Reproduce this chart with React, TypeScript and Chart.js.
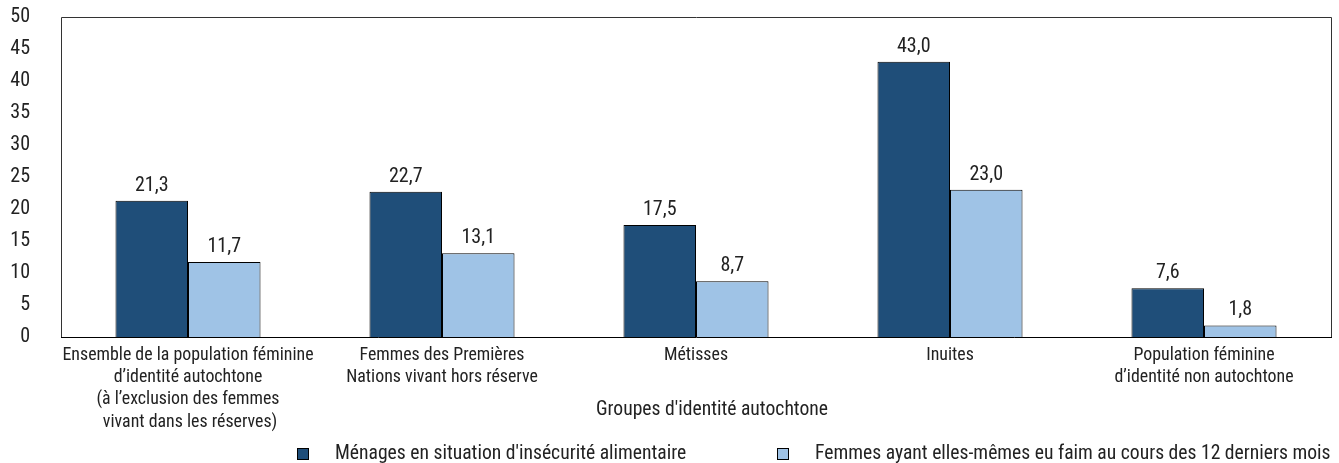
import { useEffect, useRef } from 'react';
import { Chart, registerables } from 'chart.js';

Chart.register(...registerables);

// Category labels (one entry per line)
const categories: string[][] = [
  ['Ensemble de la population féminine', 'd’identité autochtone', '(à l’exclusion des femmes', ' vivant dans les réserves)'],
  ['Femmes des Premières', 'Nations vivant hors réserve'],
  ['Métisses'],
  ['Inuites'],
  ['Population féminine', 'd’identité non autochtone'],
];

// Percentages
const householdFoodInsecurity = [21.3, 22.7, 17.5, 43.0, 7.6];
const womenWentHungry = [11.7, 13.1, 8.7, 23.0, 1.8];

const seriesNames = [
  "Ménages en situation d'insécurité alimentaire",
  'Femmes ayant elles-mêmes eu faim au cours des 12 derniers mois',
];
const xAxisTitle = "Groupes d'identité autochtone";

const yMin = 0;
const yMax = 50;
const yStep = 5;

const DARK = '#1f4e79';
const LIGHT = '#9fc3e6';
const TEXT = '#222222';

// Prefer a condensed face when one is installed; size it so the widest
// category line keeps the same footprint whatever face is picked.
function pickFont(): { family: string; size: number } {
  const c = document.createElement('canvas').getContext('2d')!;
  const sample = categories[0][0];
  const probe = (fam: string) => {
    c.font = `16px ${fam}, monospace`;
    const a = c.measureText(sample).width;
    c.font = '16px monospace';
    const b = c.measureText(sample).width;
    return a !== b ? a : 0;
  };
  const candidates = ['"Roboto Condensed"', '"Liberation Sans Narrow"', '"Arial Narrow"', 'Roboto'];
  for (const fam of candidates) {
    const w = probe(fam);
    if (w > 0) return { family: `${fam}, sans-serif`, size: +(16 * 251 / w).toFixed(2) };
  }
  return { family: 'sans-serif', size: 16 };
}

const fmt = (v: number) => v.toFixed(1).replace('.', ',');

function makeDecor(family: string, size: number) {
  return {
    id: 'decor',
    afterDatasetsDraw(chart: any) {
      const { ctx, chartArea: a } = chart;
      ctx.save();

      // value labels above bars
      ctx.font = `${size * 1.12}px ${family}`;
      ctx.fillStyle = TEXT;
      ctx.textAlign = 'center';
      ctx.textBaseline = 'middle';
      chart.data.datasets.forEach((ds: any, i: number) => {
        chart.getDatasetMeta(i).data.forEach((bar: any, j: number) => {
          ctx.fillText(fmt(ds.data[j]), bar.x, bar.y - 15);
        });
      });

      // plot frame
      ctx.strokeStyle = '#333333';
      ctx.lineWidth = 1;
      ctx.beginPath();
      ctx.moveTo(a.left + 0.5, a.bottom + 0.5);
      ctx.lineTo(a.left + 0.5, a.top + 0.5);
      ctx.lineTo(a.right + 0.5, a.top + 0.5);
      ctx.lineTo(a.right + 0.5, a.bottom + 0.5);
      ctx.stroke();
      ctx.strokeStyle = '#000000';
      ctx.beginPath();
      ctx.moveTo(a.left, a.bottom + 0.5);
      ctx.lineTo(a.right + 1, a.bottom + 0.5);
      ctx.stroke();

      // x-axis title
      ctx.font = `${size * 1.1}px ${family}`;
      ctx.fillStyle = TEXT;
      ctx.textAlign = 'center';
      ctx.fillText(xAxisTitle, 712, 410);

      // legend
      const items = [
        { x: 297, color: DARK, text: seriesNames[0] },
        { x: 777, color: LIGHT, text: seriesNames[1] },
      ];
      ctx.textAlign = 'left';
      items.forEach((it) => {
        ctx.fillStyle = it.color;
        ctx.fillRect(it.x, 448, 11, 11);
        ctx.strokeStyle = '#000000';
        ctx.strokeRect(it.x + 0.5, 448.5, 11, 11);
        ctx.fillStyle = TEXT;
        ctx.fillText(it.text, it.x + 38, 454);
      });

      ctx.restore();
    },
  };
}

export default function App() {
  const canvasRef = useRef<HTMLCanvasElement | null>(null);

  useEffect(() => {
    document.body.style.margin = '0';
    const canvas = canvasRef.current;
    if (!canvas) return;
    const { family, size } = pickFont();
    const chart = new Chart(canvas, {
      type: 'bar',
      data: {
        labels: categories,
        datasets: [
          {
            label: seriesNames[0],
            data: householdFoodInsecurity,
            backgroundColor: DARK,
            borderColor: '#000000',
            borderWidth: 1,
            categoryPercentage: 0.571,
            barPercentage: 1,
          },
          {
            label: seriesNames[1],
            data: womenWentHungry,
            backgroundColor: LIGHT,
            borderColor: '#000000',
            borderWidth: 1,
            categoryPercentage: 0.571,
            barPercentage: 1,
          },
        ],
      },
      options: {
        animation: false,
        responsive: true,
        maintainAspectRatio: false,
        layout: { padding: { top: 17, right: 8, left: 0, bottom: 0 } },
        plugins: {
          legend: { display: false },
          tooltip: { enabled: false },
        },
        scales: {
          x: {
            grid: { display: false, drawTicks: false },
            border: { display: false },
            ticks: {
              color: TEXT,
              padding: 7,
              maxRotation: 0,
              autoSkip: false,
              font: { family, size, lineHeight: `${22.4}px` },
            },
            afterFit(scale: any) {
              scale.height = 126;
              scale.paddingLeft = 0;
              scale.paddingRight = 0;
            },
          },
          y: {
            min: yMin,
            max: yMax,
            grid: { display: false, drawTicks: false },
            border: { display: false },
            ticks: {
              stepSize: yStep,
              color: TEXT,
              padding: 31,
              font: { family, size: size * 1.12 },
              callback: (v: any) => String(v),
            },
            afterFit(scale: any) {
              scale.width = 61;
              scale.paddingTop = 0;
              scale.paddingBottom = 0;
            },
          },
        },
      },
      plugins: [makeDecor(family, size)],
    });
    return () => chart.destroy();
  }, []);

  return (
    <div style={{ position: 'fixed', left: 0, top: 0, width: 1339, height: 463, background: '#ffffff' }}>
      <canvas ref={canvasRef} />
    </div>
  );
}
